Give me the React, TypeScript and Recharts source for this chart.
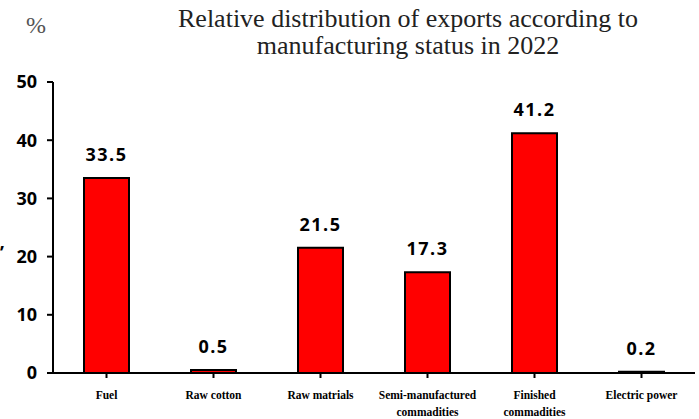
import React from 'react';
import { BarChart, Bar, XAxis, YAxis, LabelList } from 'recharts';

const categories = ['Fuel', 'Raw cotton', 'Raw matrials', 'Semi-manufactured commadities', 'Finished commadities', 'Electric power'];
const shares = [33.5, 0.5, 21.5, 17.3, 41.2, 0.2];
const tickLines = [
  ['Fuel'],
  ['Raw cotton'],
  ['Raw matrials'],
  ['Semi-manufactured', 'commadities'],
  ['Finished', 'commadities'],
  ['Electric power'],
];
const yTicks = [0, 10, 20, 30, 40, 50];

const data = categories.map((name, i) => ({ name, value: shares[i], lines: tickLines[i] }));

const numFont = '"Open Sans", "Noto Sans", sans-serif';
const serif = '"Liberation Serif", "Times New Roman", serif';

function CategoryTick(props: any) {
  const { x, y, payload } = props;
  const lines = tickLines[payload.index] || [payload.value];
  return (
    <g>
      {lines.map((line: string, i: number) => (
        <text
          key={i}
          x={x}
          y={y + 19 + i * 17}
          textAnchor="middle"
          fontFamily={serif}
          fontWeight={700}
          fontSize={11.5}
          fill="#000"
        >
          {line}
        </text>
      ))}
    </g>
  );
}

export default function App() {
  return (
    <div style={{ position: 'absolute', left: 0, top: 0, width: 699, height: 419, background: '#fff' }}>
      <div style={{ position: 'absolute', left: 26, top: 12, fontFamily: serif, fontSize: 24, color: '#555' }}>%</div>
      <div
        style={{
          position: 'absolute',
          left: 158,
          width: 500,
          top: 5,
          textAlign: 'center',
          fontFamily: serif,
          fontSize: 26,
          lineHeight: '27px',
          color: '#222',
        }}
      >
        Relative distribution of exports according to
        <br />
        manufacturing status in 2022
      </div>
      <div style={{ position: 'absolute', left: 0, top: 240, fontFamily: numFont, fontWeight: 700, fontSize: 18 }}>’</div>
      <BarChart
        width={699}
        height={419}
        data={data}
        margin={{ top: 82, right: 4, left: 0, bottom: 0 }}
        barSize={45}
      >
        <XAxis
          dataKey="name"
          interval={0}
          height={46}
          axisLine={{ stroke: '#000', strokeWidth: 2 }}
          tickLine={{ stroke: '#000', strokeWidth: 2 }}
          tickSize={5}
          tick={<CategoryTick />}
        />
        <YAxis
          width={53}
          domain={[0, 50]}
          ticks={yTicks}
          interval={0}
          axisLine={{ stroke: '#000', strokeWidth: 2 }}
          tickLine={{ stroke: '#000', strokeWidth: 2 }}
          tickSize={6}
          tickMargin={10}
          tick={{ fill: '#000', fontFamily: numFont, fontWeight: 700, fontSize: 18 }}
        />
        <Bar dataKey="value" fill="#ff0000" stroke="#000" strokeWidth={2} isAnimationActive={false}>
          <LabelList
            dataKey="value"
            position="top"
            offset={17}
            fill="#000"
            fontFamily={numFont}
            fontWeight={700}
            fontSize={18}
            letterSpacing={1.5}
            formatter={(v: any) => Number(v).toFixed(1)}
          />
        </Bar>
      </BarChart>
    </div>
  );
}
